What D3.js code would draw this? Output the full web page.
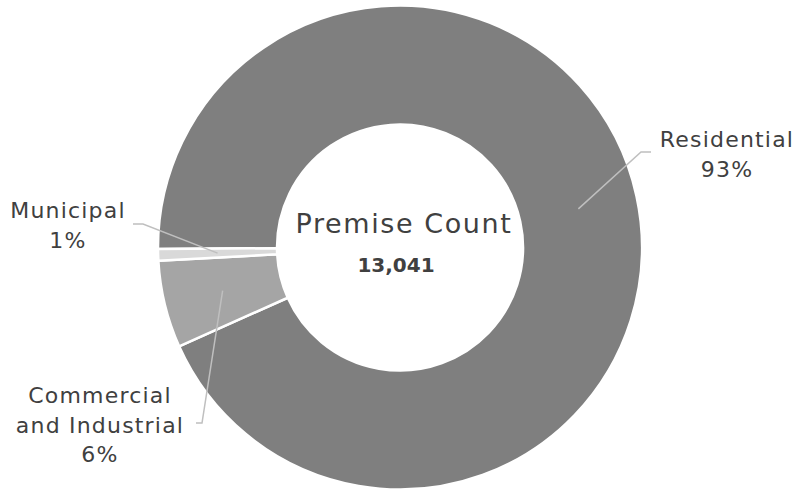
<!DOCTYPE html>
<html>
<head>
<meta charset="utf-8">
<script src="https://cdn.jsdelivr.net/npm/d3@7"></script>
<style>
  html, body { margin: 0; padding: 0; background: #fff; }
  svg { display: block; }
  text { font-family: "DejaVu Sans", sans-serif; fill: #404040; }
</style>
</head>
<body>
<svg id="chart" width="795" height="491"></svg>
<script>
// ---- data ----
const categories = ["Residential", "Commercial and Industrial", "Municipal"];
const values = [12180, 759, 102];
const percentLabels = ["93%", "6%", "1%"];
const labelLines = [["Residential"], ["Commercial", "and Industrial"], ["Municipal"]];
const colors = ["#7f7f7f", "#a5a5a5", "#d9d9d9"];
const centerTitle = "Premise Count";
const centerValue = "13,041";

// ---- layout ----
const W = 795, H = 491;
const cx = 400, cy = 247.5;
const rOuter = 242, rInner = 123;
const labelLayout = [
  { x: 727, y: 147, elbow: [641, 152], end: [651, 152] },
  { x: 100, y: 403, elbow: [202, 423], end: [196, 423] },
  { x: 68, y: 218, elbow: [143, 224], end: [133, 224] }
];

const svg = d3.select("#chart");
const g = svg.append("g").attr("transform", `translate(${cx},${cy})`);

const pie = d3.pie().sort(null).value(d => d)
  .startAngle(-Math.PI / 2 - 0.006)
  .endAngle(3 * Math.PI / 2 - 0.006);
const arcs = pie(values);
const arc = d3.arc().innerRadius(rInner).outerRadius(rOuter);

g.selectAll("path.slice").data(arcs).enter().append("path")
  .attr("class", "slice")
  .attr("d", arc)
  .attr("fill", (d, i) => colors[i])
  .attr("stroke", "#fff")
  .attr("stroke-width", 2.5)
  .attr("stroke-linejoin", "round");

// leader lines
arcs.forEach((d, i) => {
  const c = arc.centroid(d);
  const L = labelLayout[i];
  const pts = [[cx + c[0], cy + c[1]], L.elbow, L.end];
  svg.append("path")
    .attr("d", d3.line()(pts))
    .attr("fill", "none")
    .attr("stroke", "#bfbfbf")
    .attr("stroke-width", 1.5);
});

// labels
arcs.forEach((d, i) => {
  const L = labelLayout[i];
  const lines = labelLines[i].concat([percentLabels[i]]);
  const t = svg.append("text")
    .attr("text-anchor", "middle")
    .attr("font-size", 22)
    .attr("letter-spacing", 1.2);
  lines.forEach((s, k) => {
    t.append("tspan").attr("x", L.x).attr("y", L.y + k * 29.5).text(s);
  });
});

// center text
svg.append("text").attr("x", 404).attr("y", 232.5)
  .attr("text-anchor", "middle").attr("font-size", 27)
  .attr("letter-spacing", 1.6).text(centerTitle);
svg.append("text").attr("x", 396).attr("y", 271.5)
  .attr("text-anchor", "middle").attr("font-size", 20).attr("font-weight", "bold").text(centerValue);
</script>
</body>
</html>
